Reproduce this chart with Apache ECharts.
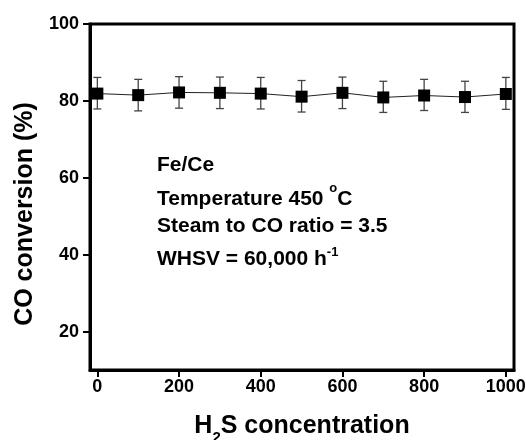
<!DOCTYPE html>
<html>
<head>
<meta charset="utf-8">
<script src="https://cdn.jsdelivr.net/npm/echarts@6/dist/echarts.min.js"></script>
<style>
html,body{margin:0;padding:0;background:#fff;}
#chart{width:526px;height:440px;}
</style>
</head>
<body>
<div id="chart"></div>
<script>
// H2S concentration (x) values
var h2sConc = [0, 100, 200, 300, 400, 500, 600, 700, 800, 900, 1000];
// CO conversion (%)
var coConversion = [81.9, 81.5, 82.2, 82.1, 81.9, 81.1, 82.1, 80.9, 81.4, 81.0, 81.8];
// error bar ends
var errUpper = [86.1, 85.6, 86.3, 86.2, 86.1, 85.3, 86.2, 85.1, 85.6, 85.1, 86.1];
var errLower = [77.9, 77.4, 78.1, 78.0, 77.9, 77.1, 78.0, 77.0, 77.5, 77.0, 77.8];
// tick labels
var xTicks = [0, 200, 400, 600, 800, 1000];
var yTicks = [20, 40, 60, 80, 100];
// annotation lines
var noteLines = [
  '{m|Fe/Ce}',
  '{m|Temperature 450 }{s|o}{m|C}',
  '{m|Steam to CO ratio = 3.5}',
  '{m|WHSV = 60,000 h}{s2|-1}'
];

var FONT = 'Liberation Sans, Arial, sans-serif';
var chart = echarts.init(document.getElementById('chart'), null, {renderer: 'canvas'});

var linePts = h2sConc.map(function (x, i) { return [x, coConversion[i]]; });
var errPts = h2sConc.map(function (x, i) { return [x, errLower[i], errUpper[i]]; });

var noteRich = {
  m: {fontSize: 21, height: 26, lineHeight: 26, verticalAlign: 'top', fontWeight: 'bold', fontFamily: FONT, color: '#000'},
  s: {fontSize: 13, height: 6, lineHeight: 6, verticalAlign: 'top', fontWeight: 'bold', fontFamily: FONT, color: '#000'},
  s2: {fontSize: 13, height: 12, lineHeight: 12, verticalAlign: 'top', fontWeight: 'bold', fontFamily: FONT, color: '#000'}
};
var noteY = [152.5, 185.8, 213.5, 246.5];

function plainNum(v) { return String(v); }

var option = {
  animation: false,
  backgroundColor: '#fff',
  grid: {
    left: 90, top: 24, right: 12, bottom: 70,
    show: true, borderColor: '#000', borderWidth: 3,
    outerBoundsMode: 'none'
  },
  xAxis: {
    type: 'value', min: -18, max: 1020,
    axisLine: {show: true, onZero: false, lineStyle: {color: '#000', width: 3}},
    axisTick: {show: true, customValues: xTicks, length: 7, lineStyle: {color: '#000', width: 2}},
    axisLabel: {customValues: xTicks, formatter: plainNum, fontSize: 18, fontWeight: 'bold', color: '#000', fontFamily: FONT, margin: 8},
    splitLine: {show: false},
    name: '{a|H}{b|2}{a|S concentration}',
    nameLocation: 'middle',
    nameGap: 41,
    nameTextStyle: {
      rich: {
        a: {fontSize: 25, height: 30, lineHeight: 30, verticalAlign: 'top', fontWeight: 'bold', fontFamily: FONT, color: '#000'},
        b: {fontSize: 15, height: 54, lineHeight: 54, verticalAlign: 'top', fontWeight: 'bold', fontFamily: FONT, color: '#000'}
      }
    }
  },
  yAxis: {
    type: 'value', min: 10, max: 100,
    axisLine: {show: true, onZero: false, lineStyle: {color: '#000', width: 3}},
    axisTick: {show: true, customValues: yTicks, length: 7, lineStyle: {color: '#000', width: 2}},
    axisLabel: {customValues: yTicks, formatter: plainNum, fontSize: 18, fontWeight: 'bold', color: '#000', fontFamily: FONT, margin: 11},
    splitLine: {show: false},
    name: 'CO conversion (%)',
    nameLocation: 'middle',
    nameGap: 52,
    nameTextStyle: {fontSize: 25, lineHeight: 25, fontWeight: 'bold', fontFamily: FONT, color: '#000', padding: [0, 34, 0, 0]}
  },
  graphic: noteLines.map(function (t, i) {
    return {
      type: 'text', x: 157, y: noteY[i], z: 100,
      style: {text: t, rich: noteRich, verticalAlign: 'top', align: 'left', fill: '#000'}
    };
  }),
  series: [
    {
      type: 'custom',
      data: errPts,
      z: 1,
      silent: true,
      renderItem: function (params, api) {
        var x = api.value(0);
        var lo = api.coord([x, api.value(1)]);
        var hi = api.coord([x, api.value(2)]);
        var hw = 4;
        var st = {stroke: '#444', lineWidth: 1.3};
        return {
          type: 'group',
          children: [
            {type: 'line', shape: {x1: lo[0], y1: lo[1], x2: hi[0], y2: hi[1]}, style: st},
            {type: 'line', shape: {x1: lo[0] - hw, y1: lo[1], x2: lo[0] + hw, y2: lo[1]}, style: st},
            {type: 'line', shape: {x1: hi[0] - hw, y1: hi[1], x2: hi[0] + hw, y2: hi[1]}, style: st}
          ]
        };
      }
    },
    {
      type: 'line',
      data: linePts,
      z: 3,
      symbol: 'rect',
      symbolSize: 12,
      itemStyle: {color: '#000'},
      lineStyle: {color: '#222', width: 1}
    }
  ]
};
chart.setOption(option);
</script>
</body>
</html>
